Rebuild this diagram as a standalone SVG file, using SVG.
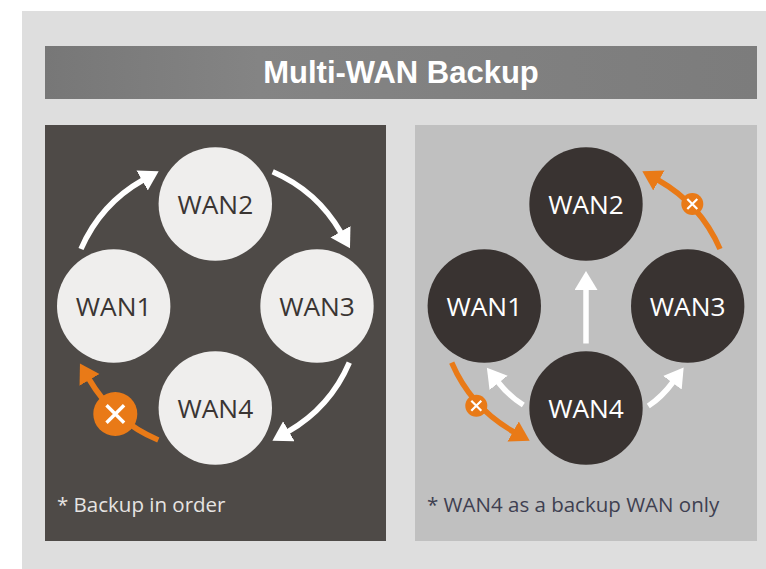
<svg xmlns="http://www.w3.org/2000/svg" width="766" height="569" viewBox="0 0 766 569">
<style>
.wan{font-family:"Open Sans","Noto Sans",sans-serif;font-size:26.3px;text-anchor:middle}
.note{font-family:"Open Sans","Noto Sans",sans-serif;font-size:20.5px}
.title{font-family:"Liberation Sans",Arial,sans-serif;font-weight:bold;font-size:31px;fill:#fff;text-anchor:middle}
.lt circle{fill:#EFEEED}.lt text{fill:#3A3533}
.dk circle{fill:#393331}.dk text{fill:#fff}
.w{fill:none;stroke:#fff;stroke-width:5.5;marker-end:url(#hw)}
.o{fill:none;stroke:#E97A17;stroke-width:5.5;marker-end:url(#ho)}
.ob{fill:#E97A17}
.x{stroke:#fff;fill:none}
</style>
<defs>
<linearGradient id="hdr" x1="0" y1="0" x2="1" y2="0"><stop offset="0" stop-color="#777"/><stop offset="0.3" stop-color="#848484"/><stop offset="1" stop-color="#7c7c7c"/></linearGradient>
<marker id="hw" markerUnits="userSpaceOnUse" markerWidth="20" markerHeight="24" refX="1" refY="11.5" orient="auto"><path d="M0,0L19,11.5L0,23Z" fill="#fff"/></marker>
<marker id="ho" markerUnits="userSpaceOnUse" markerWidth="20" markerHeight="24" refX="1" refY="11.5" orient="auto"><path d="M0,0L19,11.5L0,23Z" fill="#E97A17"/></marker>
</defs>
<rect x="22" y="11" width="744" height="558" fill="#DEDEDE"/>
<rect x="45" y="46" width="712" height="53" fill="url(#hdr)"/>
<text class="title" x="401" y="83">Multi-WAN Backup</text>
<rect x="45" y="125" width="341" height="416" fill="#4E4A47"/>
<rect x="415" y="125" width="342" height="416" fill="#C0C0C0"/>
<g id="connectors">
<path class="w" d="M81,249A145.6,145.6 0 0 1 143,180"/>
<path class="w" d="M272.7,171.7A145.6,145.6 0 0 1 341,232.6"/>
<path class="w" d="M349.3,362.7A145.6,145.6 0 0 1 288,431.7"/>
<path class="o" d="M158.3,440A145.6,145.6 0 0 1 89,379"/>
<circle class="ob" cx="115.3" cy="414" r="22"/>
<path class="x" stroke-width="3.4" d="M106.5,405.2L124.1,422.8M124.1,405.2L106.5,422.8"/>
<path class="w" d="M586,343.5V289"/>
<path class="w" d="M523.3,405Q509,396 498,382"/>
<path class="w" d="M648.3,406Q662,397 673,382"/>
<path class="o" d="M720,249A145.6,145.6 0 0 0 658,180"/>
<circle class="ob" cx="692.3" cy="204" r="11"/>
<path class="x" stroke-width="2.2" d="M687.3,199L697.3,209M697.3,199L687.3,209"/>
<path class="o" d="M451.7,362.7A145.6,145.6 0 0 0 514,432"/>
<circle class="ob" cx="476.3" cy="405.7" r="11"/>
<path class="x" stroke-width="2.2" d="M471.3,400.7L481.3,410.7M481.3,400.7L471.3,410.7"/>
</g>
<g id="l-wan1" class="lt"><circle cx="113.7" cy="306" r="56.7"/><text class="wan" x="113.7" y="316">WAN1</text></g>
<g id="l-wan2" class="lt"><circle cx="215.3" cy="204" r="56.7"/><text class="wan" x="215.3" y="214">WAN2</text></g>
<g id="l-wan3" class="lt"><circle cx="317" cy="306" r="56.7"/><text class="wan" x="317" y="316">WAN3</text></g>
<g id="l-wan4" class="lt"><circle cx="215.3" cy="408" r="56.7"/><text class="wan" x="215.3" y="418">WAN4</text></g>
<g id="r-wan1" class="dk"><circle cx="484.3" cy="306" r="56.7"/><text class="wan" x="484.3" y="316">WAN1</text></g>
<g id="r-wan2" class="dk"><circle cx="586" cy="204" r="56.7"/><text class="wan" x="586" y="214">WAN2</text></g>
<g id="r-wan3" class="dk"><circle cx="687.7" cy="306" r="56.7"/><text class="wan" x="687.7" y="316">WAN3</text></g>
<g id="r-wan4" class="dk"><circle cx="586" cy="408" r="56.7"/><text class="wan" x="586" y="418">WAN4</text></g>
<text class="note" x="57" y="512" fill="#E6E4E2">* Backup in order</text>
<text class="note" x="427" y="512" fill="#3E3F50">* WAN4 as a backup WAN only</text>
</svg>
